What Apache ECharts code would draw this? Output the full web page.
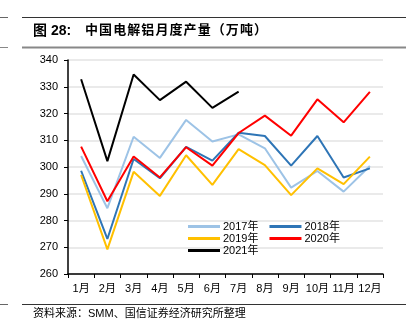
<!DOCTYPE html>
<html><head><meta charset="utf-8">
<script src="https://cdn.jsdelivr.net/npm/echarts@6/dist/echarts.min.js"></script>
<style>html,body{margin:0;padding:0;background:#fff}#c{width:414px;height:334px}</style>
</head><body><div id="c"></div>
<script>
var months = ['1月','2月','3月','4月','5月','6月','7月','8月','9月','10月','11月','12月'];
var y2017 = [304.1, 284.6, 311.3, 303.4, 317.6, 309.5, 312.2, 307.0, 292.3, 298.5, 290.8, 300.4];
var y2018 = [298.6, 273.1, 303.0, 295.8, 307.5, 302.4, 312.8, 311.6, 300.5, 311.6, 296.1, 299.5];
var y2019 = [297.0, 269.2, 298.2, 289.2, 304.4, 293.3, 306.7, 300.7, 289.5, 299.5, 293.6, 303.9];
var y2020 = [307.6, 287.2, 303.9, 296.1, 307.4, 300.5, 312.7, 319.2, 311.7, 325.3, 316.7, 328.1];
var y2021 = [332.8, 302.2, 334.6, 325.0, 331.9, 322.1, 328.2];
var seriesNames = ['2017年','2018年','2019年','2020年','2021年'];
var titleNum = '图 28:';
var titleText = '中国电解铝月度产量（万吨）';
var sourceText = '资料来源：SMM、国信证券经济研究所整理';

var FONT = '"Liberation Sans", Arial, "Noto Sans CJK SC", sans-serif';
var colors = ['#9dc3e6', '#2e75b6', '#ffc000', '#ff0000', '#000000'];
var dataArr = [y2017, y2018, y2019, y2020, y2021];

function spaced(s) { return s.split('').join('\u200A'); }

var chart = echarts.init(document.getElementById('c'), null, {renderer: 'canvas'});
function mkLegend(names, top) {
  return {
    data: names, left: 183, top: top, orient: 'horizontal',
    icon: 'rect', itemWidth: 32, itemHeight: 3, itemGap: 11,
    textStyle: {fontFamily: FONT, fontSize: 11, color: '#000', padding: [0,0,0,-2]},
    selectedMode: false
  };
}
chart.setOption({
  animation: false,
  backgroundColor: '#fff',
  color: colors,
  grid: {left: 68, right: 31, top: 60, bottom: 60, containLabel: false},
  legend: [
    mkLegend([seriesNames[0], seriesNames[1]], 216),
    mkLegend([seriesNames[2], seriesNames[3]], 228),
    mkLegend([seriesNames[4]], 240)
  ],
  xAxis: {
    type: 'category', data: months, boundaryGap: true,
    axisLine: {lineStyle: {color: '#000', width: 1.5}},
    axisTick: {show: true, length: 4, interval: 0, lineStyle: {color: '#000', width: 1}, alignWithLabel: false},
    axisLabel: {fontFamily: FONT, fontSize: 11, color: '#000', margin: 9, interval: 0}
  },
  yAxis: {
    type: 'value', min: 260, max: 340, interval: 10,
    axisLine: {show: true, lineStyle: {color: '#000', width: 1.5}},
    axisTick: {show: true, length: 4, lineStyle: {color: '#000'}},
    axisLabel: {fontFamily: FONT, fontSize: 11, color: '#000', margin: 10},
    splitLine: {show: true, lineStyle: {color: '#e3e3e3', width: 1.5}}
  },
  series: dataArr.map(function (d, i) {
    return {
      name: seriesNames[i], type: 'line', data: d, symbol: 'none',
      lineStyle: {width: 2, color: colors[i]}, itemStyle: {color: colors[i]}
    };
  }),
  graphic: [
    {type: 'line', shape: {x1: 22, y1: 17.5, x2: 406, y2: 17.5}, style: {stroke: '#333', lineWidth: 1}},
    {type: 'line', shape: {x1: 0, y1: 17.5, x2: 8, y2: 17.5}, style: {stroke: '#666', lineWidth: 1}},
    {type: 'text', left: 33, top: 24, style: {text: titleNum, font: 'bold 14px ' + FONT, fill: '#000'}},
    {type: 'text', left: 85, top: 24, style: {text: spaced(titleText), font: 'bold 13px ' + FONT, fill: '#000'}},
    {type: 'line', shape: {x1: 22, y1: 47.5, x2: 406, y2: 47.5}, style: {stroke: '#888', lineWidth: 2}},
    {type: 'line', shape: {x1: 0, y1: 47.5, x2: 8, y2: 47.5}, style: {stroke: '#888', lineWidth: 1}},
    {type: 'line', shape: {x1: 22, y1: 304.5, x2: 406, y2: 304.5}, style: {stroke: '#333', lineWidth: 1}},
    {type: 'line', shape: {x1: 0, y1: 304.5, x2: 8, y2: 304.5}, style: {stroke: '#666', lineWidth: 1}},
    {type: 'text', left: 33, top: 308, style: {text: sourceText, font: '11px ' + FONT, fill: '#000'}}
  ]
});
</script></body></html>
